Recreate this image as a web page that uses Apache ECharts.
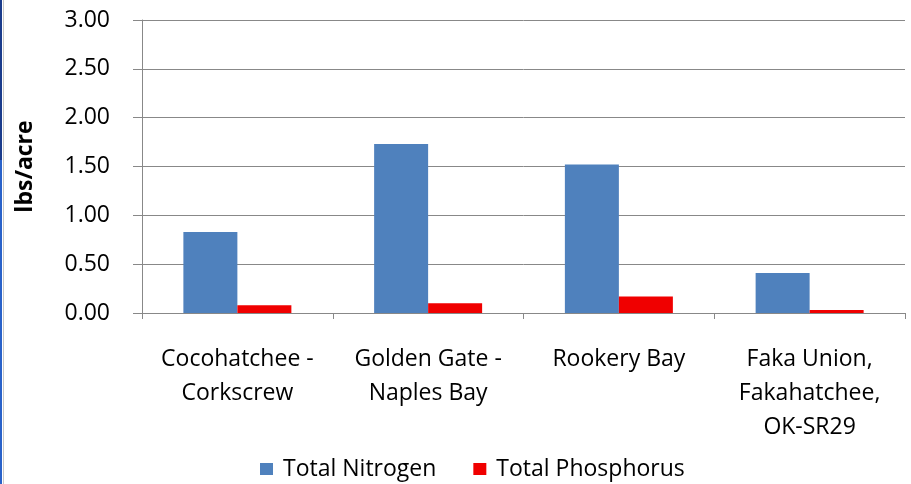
<!DOCTYPE html>
<html>
<head>
<meta charset="utf-8">
<script src="https://cdn.jsdelivr.net/npm/echarts@6/dist/echarts.min.js"></script>
<style>
  html, body { margin: 0; padding: 0; background: #fff; }
  #chart { width: 911px; height: 484px; }
</style>
</head>
<body>
<div id="chart"></div>
<script>
// Watershed loads, lbs/acre
const categories = [
  'Cocohatchee -\nCorkscrew',
  'Golden Gate -\nNaples Bay',
  'Rookery Bay',
  'Faka Union,\nFakahatchee,\nOK-SR29'
];
const seriesNames = ['Total Nitrogen', 'Total Phosphorus'];
const nitrogen = [0.83, 1.73, 1.52, 0.41];
const phosphorus = [0.08, 0.10, 0.17, 0.03];
const yTicks = [0, 0.5, 1, 1.5, 2, 2.5, 3];

const FONT = '"Open Sans", "Noto Sans", sans-serif';

const chart = echarts.init(document.getElementById('chart'), null, { renderer: 'canvas' });

chart.setOption({
  animation: false,
  backgroundColor: '#ffffff',
  textStyle: { fontFamily: FONT },
  grid: { left: 142, top: 20, right: 6, bottom: 171, containLabel: false },
  legend: {
    data: seriesNames,
    left: 260,
    top: 456,
    padding: 0,
    itemWidth: 13,
    itemHeight: 12,
    itemGap: 37,
    icon: 'rect',
    textStyle: { fontFamily: FONT, fontSize: 23, color: '#000', padding: [0, 0, 0, 5], lineHeight: 26 }
  },
  xAxis: {
    type: 'category',
    data: categories,
    boundaryGap: true,
    axisLine: { show: true, lineStyle: { color: '#888', width: 1 } },
    axisTick: { show: true, length: 6, lineStyle: { color: '#888' } },
    axisLabel: {
      interval: 0,
      margin: 29,
      fontFamily: FONT,
      fontSize: 23,
      color: '#000',
      lineHeight: 34,
      align: 'center'
    }
  },
  yAxis: {
    type: 'value',
    min: 0,
    max: 3,
    interval: 0.5,
    name: 'lbs/acre',
    nameLocation: 'middle',
    nameRotate: 90,
    nameGap: 105,
    nameTextStyle: { fontFamily: FONT, fontSize: 23, fontWeight: 'bold', color: '#000' },
    axisLine: { show: true, lineStyle: { color: '#888', width: 1 } },
    axisTick: { show: true, inside: false, length: 9, lineStyle: { color: '#888' } },
    splitLine: { show: true, lineStyle: { color: '#888', width: 1 } },
    axisLabel: {
      margin: 32,
      fontFamily: FONT,
      fontSize: 23,
      color: '#000',
      formatter: function (v) {
        return yTicks.indexOf(v) >= 0 ? v.toFixed(2) : '';
      }
    }
  },
  series: [
    {
      name: seriesNames[0],
      type: 'bar',
      data: nitrogen,
      barWidth: 54,
      barGap: '0%',
      itemStyle: { color: '#4f81bd' }
    },
    {
      name: seriesNames[1],
      type: 'bar',
      data: phosphorus,
      barWidth: 54,
      barGap: '0%',
      itemStyle: { color: '#f00000' }
    }
  ],
  graphic: [
    // window frame along the left edge
    { type: 'rect', left: 0, top: 0, shape: { width: 2, height: 484 }, style: { fill: '#2a62c9' }, z: 100 },
    { type: 'rect', left: 0, top: 0, shape: { width: 2, height: 160 }, style: { fill: '#1b3c8c' }, z: 101 },
    { type: 'rect', left: 3, top: 0, shape: { width: 1, height: 484 }, style: { fill: '#c9c9c9' }, z: 100 }
  ]
});
</script>
</body>
</html>
